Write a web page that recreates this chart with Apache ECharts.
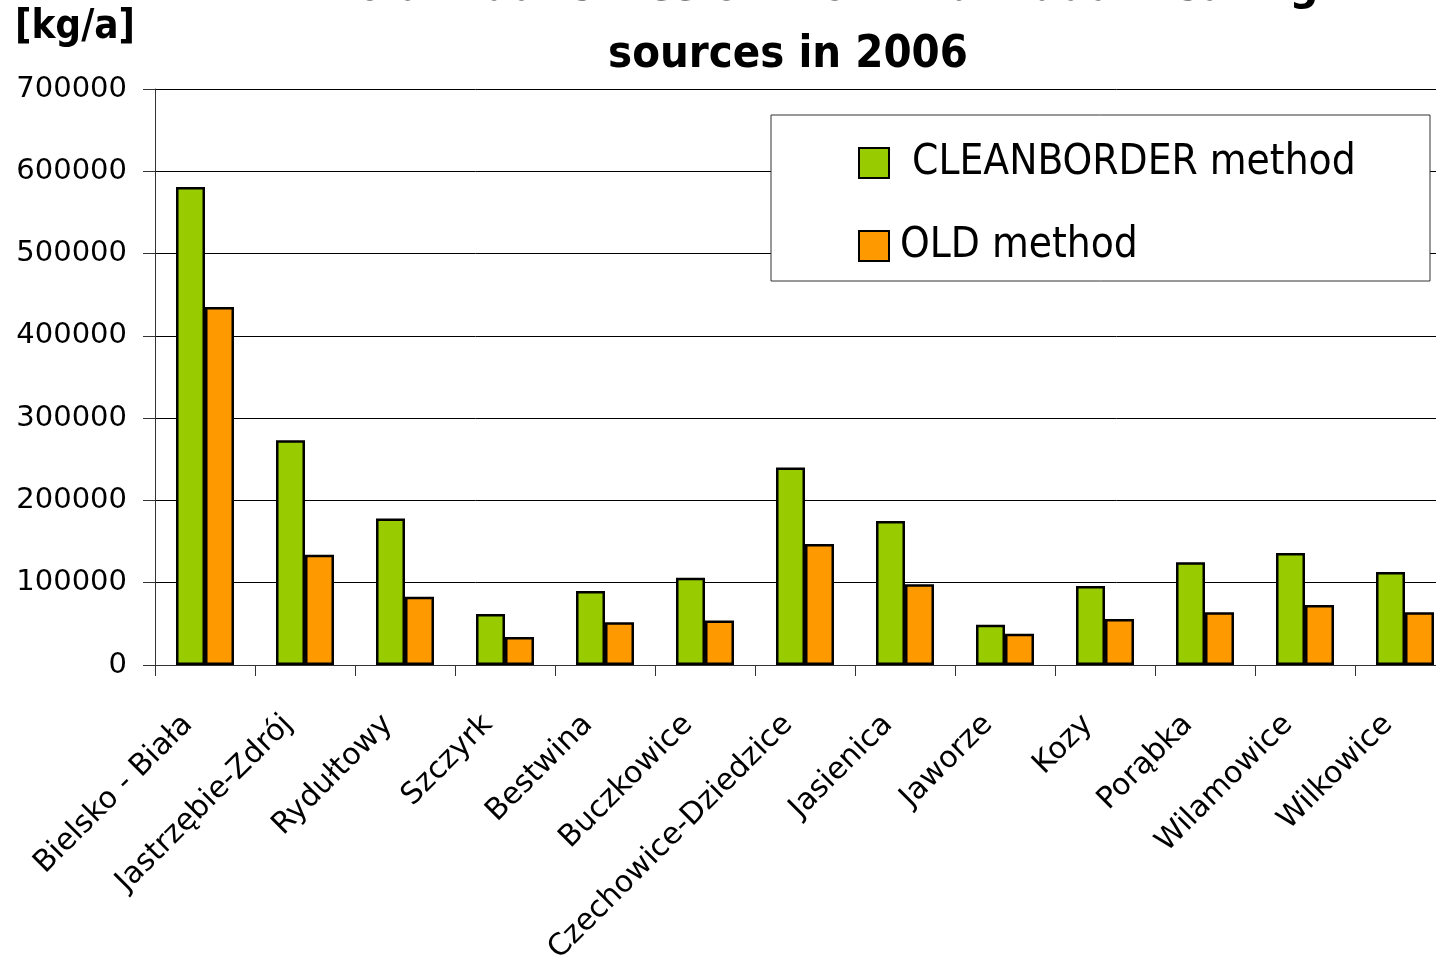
<!DOCTYPE html>
<html>
<head>
<meta charset="utf-8">
<script src="https://cdn.jsdelivr.net/npm/echarts@6/dist/echarts.min.js"></script>
<style>
  html, body { margin: 0; padding: 0; background: #fff; }
  #chart { width: 1436px; height: 955px; }
</style>
</head>
<body>
<div id="chart"></div>
<script>
const towns = ['Bielsko - Biała', 'Jastrzębie-Zdrój', 'Rydułtowy', 'Szczyrk', 'Bestwina', 'Buczkowice',
  'Czechowice-Dziedzice', 'Jasienica', 'Jaworze', 'Kozy', 'Porąbka', 'Wilamowice', 'Wilkowice']
const cleanborder = [581000, 273000, 178000, 62000, 90000, 106000, 240000, 175000, 49000, 96000, 125000, 136000, 113000]
const oldMethod   = [435000, 134000, 83000, 34000, 52000, 54000, 147000, 98000, 38000, 56000, 64000, 73000, 64000]
const yTicks = [0, 100000, 200000, 300000, 400000, 500000, 600000, 700000]

const NARROW = '"Liberation Sans Narrow","DejaVu Sans Condensed","Open Sans",sans-serif'
const WIDE = '"DejaVu Sans",Verdana,sans-serif'

const chart = echarts.init(document.getElementById('chart'), null, { renderer: 'canvas' })
chart.setOption({
  animation: false,
  backgroundColor: '#fff',
  // plot runs past the right edge of the picture, like the original
  grid: { left: 155, top: 89, width: 1300, bottom: 290, containLabel: false, outerBoundsMode: 'none' },
  graphic: [
    {
      type: 'text', x: 788, y: -45, z: 10,
      style: {
        text: 'PM10 annual emission from individual heating\nsources in 2006',
        textAlign: 'center',
        font: 'bold 45px ' + NARROW, lineHeight: 67, fill: '#000',
      },
    },
    {
      type: 'text', x: 15, y: 8, z: 10,
      style: { text: '[kg/a]', font: 'bold 40px ' + NARROW, fill: '#000' },
    },
    {
      type: 'rect', z: 3,
      shape: { x: 771, y: 115, width: 659, height: 166 },
      style: { fill: '#fff', stroke: '#333', lineWidth: 1 },
    },
  ],
  legend: {
    left: 858, top: 141, orient: 'vertical', z: 5, padding: 0,
    itemWidth: 30, itemHeight: 30, itemGap: 39,
    icon: 'rect',
    formatter: name => name === 'CLEANBORDER method' ? ' ' + name : name,
    textStyle: { fontFamily: NARROW, fontSize: 42, color: '#000', lineHeight: 44, padding: [0, 0, 0, 6] },
    data: ['CLEANBORDER method', 'OLD method'],
  },
  xAxis: {
    type: 'category',
    data: towns,
    axisLine: { lineStyle: { color: '#333', width: 1 } },
    axisTick: { show: true, length: 11, lineStyle: { color: '#333' } },
    axisLabel: {
      interval: 0, rotate: 45, margin: 38, padding: [0, 24, 0, 0],
      fontFamily: WIDE, fontSize: 30, color: '#000',
    },
  },
  yAxis: {
    type: 'value', min: yTicks[0], max: yTicks[yTicks.length - 1], interval: yTicks[1] - yTicks[0],
    axisLine: { show: true, lineStyle: { color: '#333', width: 1 } },
    axisTick: { show: true, length: 12, lineStyle: { color: '#333' } },
    axisLabel: { margin: 28, fontFamily: WIDE, fontSize: 29, color: '#000', formatter: v => String(v) },
    splitLine: { show: true, lineStyle: { color: '#000', width: 1 } },
  },
  series: [
    {
      name: 'CLEANBORDER method', type: 'bar', data: cleanborder,
      barGap: '0%', barCategoryGap: '42%',
      itemStyle: { color: '#99CC00', borderColor: '#000', borderWidth: 2.5 },
    },
    {
      name: 'OLD method', type: 'bar', data: oldMethod,
      barGap: '0%', barCategoryGap: '42%',
      itemStyle: { color: '#FF9900', borderColor: '#000', borderWidth: 2.5 },
    },
  ],
})
</script>
</body>
</html>
